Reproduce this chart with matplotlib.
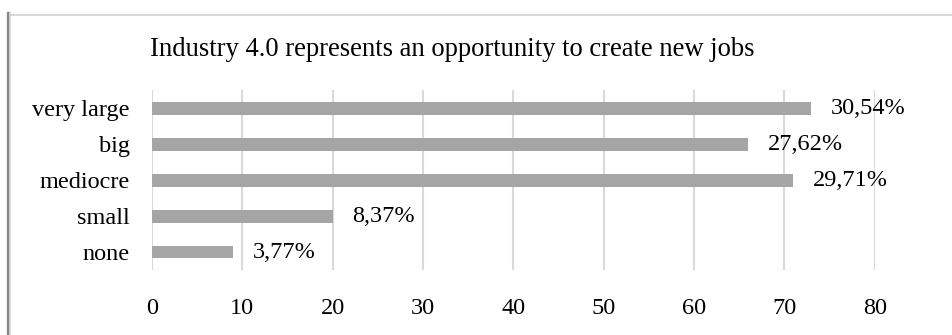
import matplotlib.pyplot as plt
from matplotlib.lines import Line2D

# survey answers (number of respondents)
categories = ['very large', 'big', 'mediocre', 'small', 'none']
counts = [73, 66, 71, 20, 9]
total = sum(counts)

plt.rcParams['font.family'] = ['Liberation Serif', 'DejaVu Serif']

fig = plt.figure(figsize=(9.52, 3.35), dpi=100)
ax = fig.add_axes([0.1597, 0.194, 0.7591, 0.537])

ypos = range(len(categories))
bars = ax.barh(ypos, counts, height=0.36, color='#a5a5a5', zorder=2)
ax.set_ylim(len(categories) - 0.5, -0.5)
ax.set_yticks(list(ypos))
ax.set_yticklabels(categories, fontsize=17.5)

# percentage labels next to each bar
for bar, c in zip(bars, counts):
    pct = '{:.2f}%'.format(100 * c / total).replace('.', ',')
    ax.annotate(pct, (bar.get_width(), bar.get_y() + bar.get_height() / 2),
                xytext=(14, 0), textcoords='offset points',
                va='center', ha='left', fontsize=17.5)

ax.set_xlim(0, 80)
ax.set_xticks(range(0, 81, 10))
ax.tick_params(axis='x', labelsize=17.5, length=0, pad=20)
ax.tick_params(axis='y', length=0, pad=16)
ax.grid(axis='x', color='#d9d9d9', linewidth=1.5, zorder=0)
for s in ax.spines.values():
    s.set_visible(False)

fig.text(0.475, 0.851, 'Industry 4.0 represents an opportunity to create new jobs',
         ha='center', va='center', fontsize=19.2)

# frame of the chart area
fig.add_artist(Line2D([10 / 952, 1], [1 - 14.5 / 335] * 2, color='#d9d9d9', linewidth=1.5))
fig.add_artist(Line2D([7.5 / 952] * 2, [0, 1 - 13 / 335], color='#888888', linewidth=2.4))
fig.add_artist(Line2D([10 / 952] * 2, [0, 1 - 13 / 335], color='#d9d9d9', linewidth=1.2))

fig.savefig('out.png', dpi=100)
